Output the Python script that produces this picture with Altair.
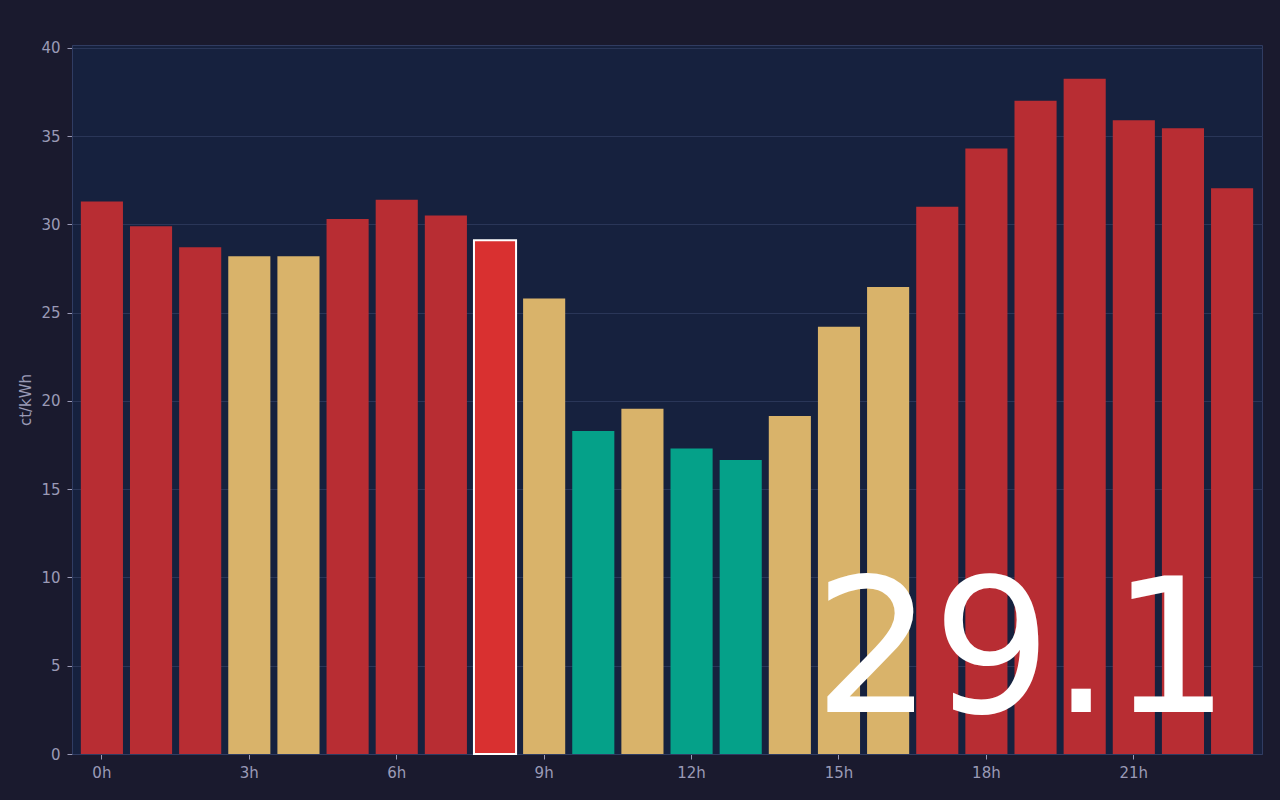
import altair as alt
import pandas as pd

hours = ["0h", "1h", "2h", "3h", "4h", "5h", "6h", "7h", "8h", "9h", "10h", "11h",
         "12h", "13h", "14h", "15h", "16h", "17h", "18h", "19h", "20h", "21h", "22h", "23h"]
prices = [31.3, 29.9, 28.7, 28.2, 28.2, 30.3, 31.4, 30.5, 29.1, 25.8, 18.3, 19.55,
          17.3, 16.65, 19.15, 24.2, 26.45, 31.0, 34.3, 37.0, 38.25, 35.9, 35.45, 32.05]
levels = ["high", "high", "high", "mid", "mid", "high", "high", "high", "current", "mid", "low", "mid",
          "low", "low", "mid", "mid", "mid", "high", "high", "high", "high", "high", "high", "high"]
tick_hours = ["0h", "3h", "6h", "9h", "12h", "15h", "18h", "21h"]
y_ticks = [0, 5, 10, 15, 20, 25, 30, 35, 40]
current_label = ["29.1"]

level_domain = ["high", "mid", "low", "current"]
level_colors = ["#B82D33", "#D9B36A", "#05A189", "#D93030"]

df = pd.DataFrame({"hour": hours, "price": prices, "level": levels,
                   "current": [lv == "current" for lv in levels]})
kpi = pd.DataFrame({"label": current_label})

label_color = "#9a9ab6"
line_color = "#303c62"
page_bg = "#1a1a2e"

x_enc = alt.X("hour:N", sort=hours,
              scale=alt.Scale(type="band", paddingInner=0.143, paddingOuter=0.18),
              axis=alt.Axis(values=tick_hours, labelAngle=0, title=None, grid=False,
                            tickSize=5, labelPadding=6, labelColor=label_color,
                            tickColor=label_color, domainColor=line_color,
                            labelFont="DejaVu Sans", labelFontSize=15))
y_enc = alt.Y("price:Q",
              scale=alt.Scale(domain=[0, 40.16], nice=False),
              axis=alt.Axis(values=y_ticks, title="ct/kWh", grid=True, gridColor="#2a3658",
                            tickSize=5, labelPadding=7, labelColor=label_color,
                            tickColor=label_color, domainColor=line_color,
                            labelFont="DejaVu Sans", labelFontSize=15,
                            titleFont="DejaVu Sans", titleFontSize=15,
                            titleFontWeight="normal", titleColor=label_color,
                            titlePadding=7))

bars = alt.Chart(df).mark_bar().encode(
    x=x_enc,
    y=y_enc,
    color=alt.Color("level:N", scale=alt.Scale(domain=level_domain, range=level_colors), legend=None),
    stroke=alt.condition("datum.current", alt.value("#ffffff"), alt.value(None)),
    strokeWidth=alt.condition("datum.current", alt.value(2), alt.value(0)),
)

big = alt.Chart(kpi).mark_text(
    align="right", baseline="alphabetic", fontSize=187, color="#ffffff", font="DejaVu Sans"
).encode(
    x=alt.value(1158),
    y=alt.value(667),
    text="label:N",
)

chart = alt.layer(bars, big).properties(
    width=1190,
    height=709,
    background=page_bg,
    padding={"left": 64, "top": 37, "right": 10, "bottom": 38},
    autosize=alt.AutoSizeParams(type="none"),
).configure_view(
    fill="#16213e", stroke=line_color, strokeWidth=1
)

chart.save("out.html", embed_options={"renderer": "svg", "actions": False,
                                      "defaultStyle": "body{background:#1a1a2e;}"})
